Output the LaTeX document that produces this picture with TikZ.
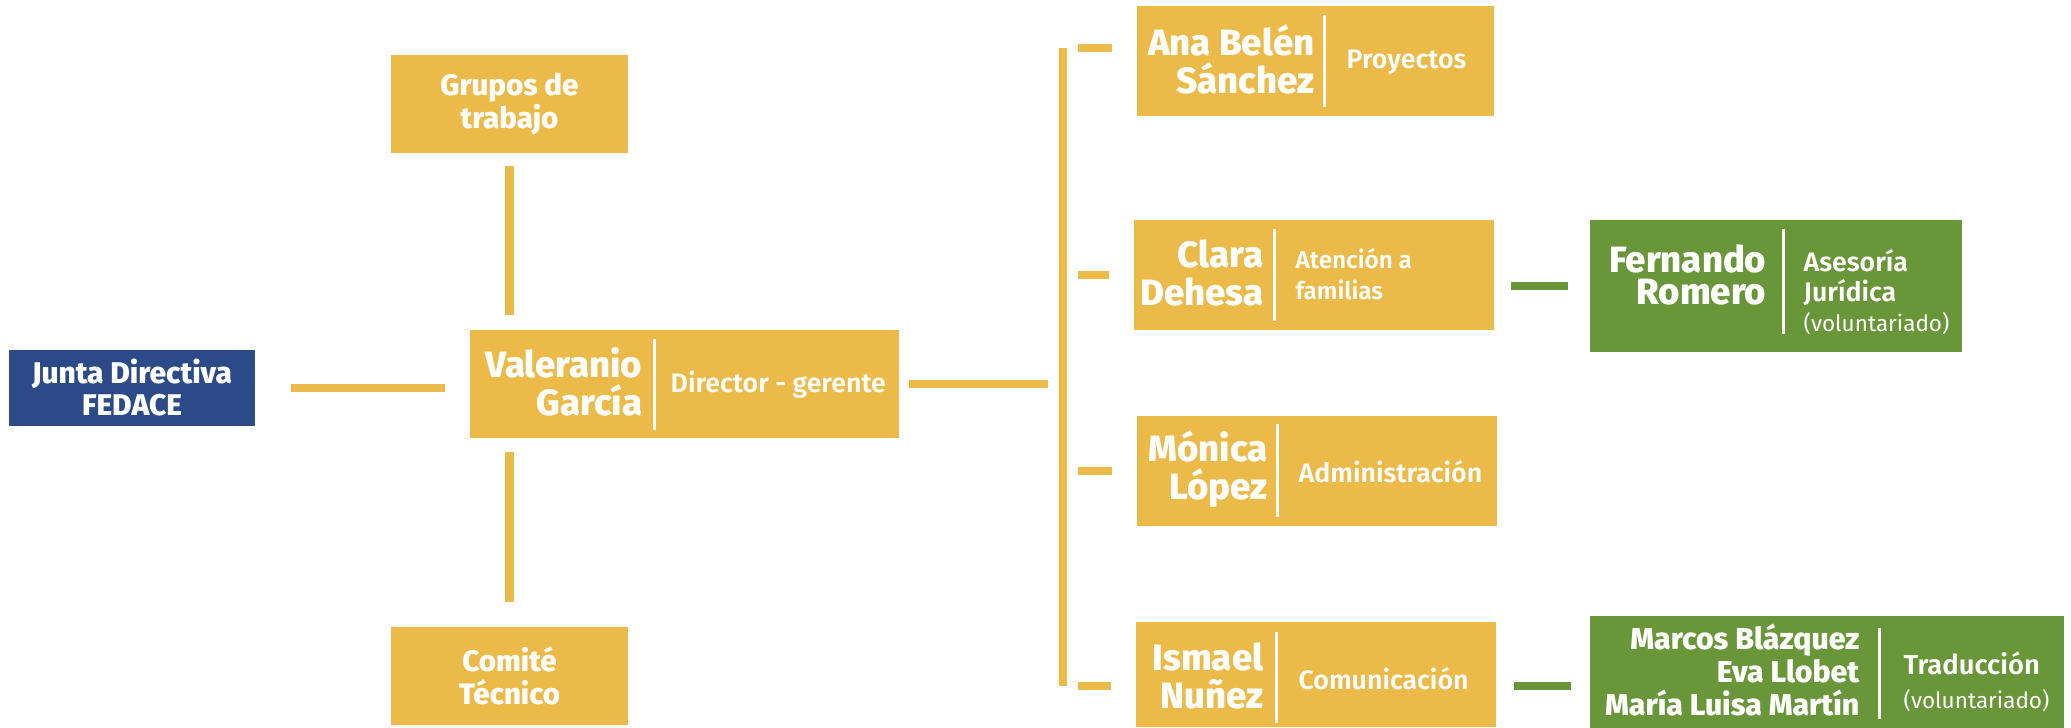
\documentclass[tikz,border=0pt]{standalone}
\usepackage{fontspec}
\setmainfont{Fira Sans}
\newfontfamily\namefont{Fira Sans ExtraBold}
\newfontfamily\rolefont{Fira Sans SemiBold}
\definecolor{amarillo}{RGB}{235,186,72}
\definecolor{azul}{RGB}{44,74,136}
\definecolor{verde}{RGB}{106,150,58}
\begin{document}
\begin{tikzpicture}[x=0.01cm, y=-0.01cm,
  caja/.style={fill=amarillo, inner sep=0pt, text=white, align=center},
  nombre/.style={text=white, align=right, inner sep=0pt, font=\namefont\fontsize{10.4}{10.8}\selectfont},
  rol/.style={text=white, align=left, inner sep=0pt, font=\rolefont\fontsize{7.6}{9}\selectfont},
  enlace/.style={draw=amarillo, line width=0.08cm},
  divisor/.style={draw=white, line width=0.03cm}]
\useasboundingbox (0,0) rectangle (2071,728);
% cajas de la izquierda
\node[caja, fill=azul, minimum width=2.46cm, minimum height=0.76cm, font=\namefont\fontsize{8.5}{9.1}\selectfont] (junta) at (132,388) {Junta Directiva\\FEDACE};
\node[caja, minimum width=2.37cm, minimum height=0.98cm, font=\namefont\fontsize{8.4}{9.4}\selectfont] (grupos) at (509.5,104) {Grupos de\\trabajo};
\node[caja, minimum width=2.37cm, minimum height=0.98cm, font=\namefont\fontsize{8.4}{9.4}\selectfont] (comite) at (509.5,676) {Comité\\Técnico};
% director
\node[caja, minimum width=4.29cm, minimum height=1.08cm] (valer) at (684.5,384) {};
\draw[divisor] (654,339) -- (654,430);
\node[nombre, anchor=east] (valerN) at (643,382) {Valeranio\\García};
\node[rol, anchor=west] (valerR) at (670,385) {Director - gerente};
% equipo
\node[caja, minimum width=3.57cm, minimum height=1.10cm] (ana) at (1315.5,61) {};
\draw[divisor] (1324,15) -- (1324,107);
\node[nombre, anchor=east] (anaN) at (1315,59) {Ana Belén\\Sánchez};
\node[rol, anchor=west] (anaR) at (1346,62) {Proyectos};
\node[caja, minimum width=3.60cm, minimum height=1.10cm] (clara) at (1314,275) {};
\draw[divisor] (1274,229) -- (1274,321);
\node[nombre, anchor=east] (claraN) at (1264,272.5) {Clara\\Dehesa};
\node[rol, anchor=west, font=\rolefont\fontsize{6.9}{9}\selectfont] (claraR) at (1295,274) {Atención a\\familias};
\node[caja, minimum width=3.60cm, minimum height=1.10cm] (monica) at (1317,471) {};
\draw[divisor] (1277,424) -- (1277,517);
\node[nombre, anchor=east] (monicaN) at (1268,469) {Mónica\\López};
\node[rol, anchor=west] (monicaR) at (1298,472) {Administración};
\node[caja, minimum width=3.60cm, minimum height=1.05cm] (ismael) at (1316,674.5) {};
\draw[divisor] (1276,632) -- (1276,723);
\node[nombre, anchor=east] (ismaelN) at (1264,676) {Ismael\\Nuñez};
\node[rol, anchor=west] (ismaelR) at (1298,679) {Comunicación};
% voluntariado
\node[caja, fill=verde, minimum width=3.72cm, minimum height=1.32cm] (fernando) at (1776,286) {};
\draw[divisor] (1783,229) -- (1783,334);
\node[nombre, anchor=east, font=\namefont\fontsize{10.4}{8.9}\selectfont] (fernandoN) at (1767,275) {Fernando\\Romero};
\node[rol, anchor=west, font=\rolefont\fontsize{7.6}{8.6}\selectfont] (fernandoR) at (1803,292) {Asesoría\\Jurídica\\{\normalfont\fontsize{6.4}{8.6}\selectfont (voluntariado)}};
\node[caja, fill=verde, minimum width=4.74cm, minimum height=1.12cm] (marcos) at (1827,672) {};
\draw[divisor] (1879,628) -- (1879,719);
\node[nombre, anchor=east, font=\namefont\fontsize{8.6}{9.5}\selectfont] (marcosN) at (1860,670) {Marcos Blázquez\\Eva Llobet\\María Luisa Martín};
\node[rol, anchor=west, font=\rolefont\fontsize{7.8}{9.6}\selectfont] (marcosR) at (1903,682) {Traducción\\{\normalfont\fontsize{6.4}{9.6}\selectfont (voluntariado)}};
% enlaces
\coordinate (bt) at (1063,48);
\coordinate (bb) at (1063,686);
\draw[enlace] (bt) -- (bb);
\draw[enlace, shorten <=0.35cm, shorten >=0.24cm] (junta.east) -- (junta.east -| valer.west);
\draw[enlace, shorten <=0.09cm, shorten >=0.15cm] (valer.east) -- (valer.east -| bt);
\draw[enlace, shorten <=0.12cm, shorten >=0.14cm] (grupos.south) -- (grupos.south |- valer.north);
\draw[enlace, shorten <=0.13cm, shorten >=0.24cm] (comite.north |- valer.south) -- (comite.north);
\foreach \p/\q in {ana/bt, clara/clara.west, monica/monica.west, ismael/bb}
  \draw[enlace, shorten <=0.15cm, shorten >=0.24cm] (\q -| bt) -- (\q -| \p.west);
\draw[enlace, draw=verde, shorten <=0.16cm, shorten >=0.21cm] (fernando.west -| clara.east) -- (fernando.west);
\draw[enlace, draw=verde, shorten <=0.17cm, shorten >=0.18cm] (bb -| ismael.east) -- (bb -| marcos.west);
\end{tikzpicture}
\end{document}
